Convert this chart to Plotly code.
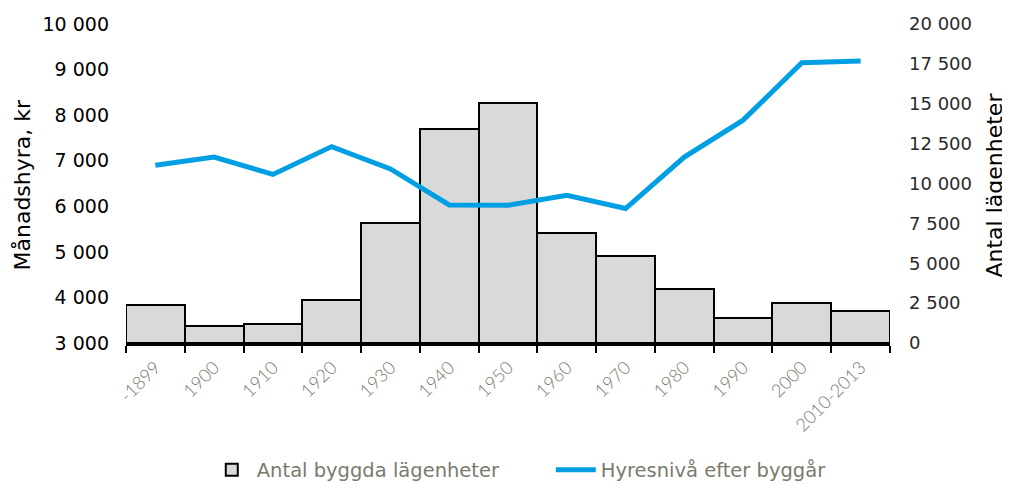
import plotly.graph_objects as go

categories = ["-1899", "1900", "1910", "1920", "1930", "1940", "1950",
              "1960", "1970", "1980", "1990", "2000", "2010-2013"]
antal_lagenheter = [2380, 1060, 1190, 2690, 7500, 13440, 15060,
                    6880, 5440, 3380, 1560, 2500, 2000]
hyresniva = [6900, 7080, 6700, 7310, 6820, 6030, 6020,
             6240, 5950, 7080, 7890, 9150, 9190]

left_ticks = [3000, 4000, 5000, 6000, 7000, 8000, 9000, 10000]
left_ticktext = ["3 000", "4 000", "5 000", "6 000", "7 000", "8 000", "9 000", "10 000"]
right_ticks = [0, 2500, 5000, 7500, 10000, 12500, 15000, 17500, 20000]
right_ticktext = ["0", "2 500", "5 000", "7 500", "10 000", "12 500", "15 000", "17 500", "20 000"]

left_title = "Månadshyra, kr"
right_title = "Antal lägenheter"

FONT = "DejaVu Sans"
GRAY = "#7a7a6e"

fig = go.Figure()
fig.add_trace(go.Bar(
    x=categories, y=antal_lagenheter, name="Antal byggda lägenheter",
    marker=dict(color="#d9d9d9", line=dict(color="black", width=2)),
    yaxis="y",
))
fig.add_trace(go.Scatter(
    x=categories, y=hyresniva, name="Hyresnivå efter byggår",
    mode="lines", line=dict(color="#009fe3", width=5),
    yaxis="y2",
))

# page body has an 8px margin: figure is sized/positioned to compensate
fig.update_layout(
    width=1002, height=477,
    margin=dict(l=118, r=120, t=16, b=142, autoexpand=False),
    paper_bgcolor="white", plot_bgcolor="white",
    bargap=0,
    font=dict(family=FONT, color="black"),
    showlegend=True,
    legend=dict(orientation="h", x=0.556, xanchor="center", y=-0.398, yanchor="middle",
                font=dict(size=19.5, color=GRAY), itemwidth=40, traceorder="normal",
                entrywidth=289),
    xaxis=dict(
        type="category", showgrid=False, showline=True, linecolor="black", linewidth=3,
        ticks="outside", tickson="boundaries", ticklen=7, tickwidth=2, tickcolor="black",
        tickangle=-45, tickfont=dict(family="Lato", size=18, color=GRAY, weight=300),
        ticklabelstandoff=4, automargin=False,
    ),
    yaxis=dict(
        side="right", range=[0, 20000], tickvals=right_ticks, ticktext=right_ticktext,
        showgrid=False, zeroline=False, showline=False, automargin=False,
        tickfont=dict(size=18, color="#2a2a2a"), ticklabelstandoff=18,
    ),
    yaxis2=dict(
        side="left", overlaying="y", range=[3000, 10000], tickvals=left_ticks,
        ticktext=left_ticktext, showgrid=False, zeroline=False, showline=False,
        automargin=False,
        tickfont=dict(size=19, color="black"), ticklabelstandoff=16,
    ),
    annotations=[
        dict(text=left_title, xref="paper", yref="paper", x=0, y=0.5,
             xshift=-104, yshift=-1, textangle=-90, showarrow=False,
             xanchor="center", yanchor="middle",
             font=dict(size=22, color="black")),
        dict(text=right_title, xref="paper", yref="paper", x=1, y=0.5,
             xshift=104, yshift=-2, textangle=-90, showarrow=False,
             xanchor="center", yanchor="middle",
             font=dict(size=22, color="black")),
    ],
)

fig.write_html("out.html")
